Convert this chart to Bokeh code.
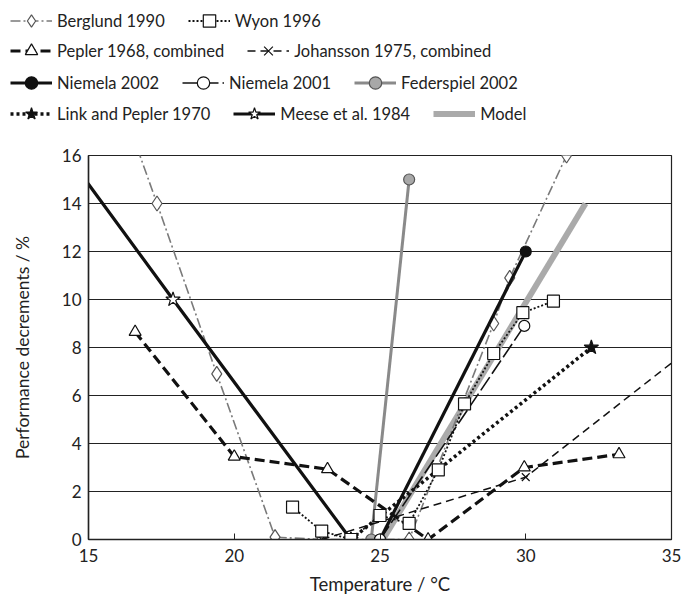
from bokeh.plotting import figure
from bokeh.layouts import column
from bokeh.models import Legend, LegendItem, Range1d, FixedTicker
from bokeh.embed import file_html
from bokeh.resources import INLINE

FONT = "Lato"
NAN = float("nan")

# ---- data ----
berglund_x = [16.47, 17.35, 19.4, 21.4, 23.0, 26.0, 28.9, 29.45, 31.4]
berglund_y = [17.0, 14.0, 6.9, 0.1, 0.0, 0.0, 9.0, 10.9, 16.0]
wyon_x = [22.0, 23.0, 24.0, 25.0, 26.0, 27.0, 27.9, 28.9, 29.9, 30.95]
wyon_y = [1.35, 0.35, 0.0, 1.0, 0.67, 2.9, 5.65, 7.75, 9.45, 9.93]
pepler_x = [16.6, 20.0, 23.2, 26.65, 29.95, 33.2]
pepler_y = [8.65, 3.45, 2.93, 0.0, 3.0, 3.55]
johansson_x = [23.0, 30.0, 35.5]
johansson_y = [0.0, 2.6, 7.83]
niemela02_x = [25.0, 30.0]
niemela02_y = [0.0, 12.0]
niemela01_x = [25.0, 29.95]
niemela01_y = [0.0, 8.9]
federspiel_x = [24.7, 26.0]
federspiel_y = [0.0, 15.0]
link_x = [24.0, 32.25]
link_y = [0.0, 8.0]
meese_x = [14.5, 17.9, 24.0]
meese_y = [15.63, 10.0, 0.0]
model_x = [25.1, 32.05]
model_y = [0.0, 14.0]

x_ticks = [15, 20, 25, 30, 35]
y_ticks = [0, 2, 4, 6, 8, 10, 12, 14, 16]

# styles: label -> (color, width, dash, marker, size, fill, marker line)
STYLES = {
    "Model": ("#aaaaaa", 6, "solid", None, 0, None, None),
    "Federspiel 2002": ("#8a8a8a", 3, "solid", "circle", 11, "#a8a8a8", "#555555"),
    "Berglund 1990": ("#7a7a7a", 1.6, "10 3 2 3", "diamond", 15, "white", "#555555"),
    "Pepler 1968, combined": ("#111111", 3.2, "10 5", "triangle", 12, "white", "#111111"),
    "Johansson 1975, combined": ("#111111", 1.5, "8 5", "x", 11, None, "#111111"),
    "Meese et al. 1984": ("#111111", 3.2, "solid", "star", 15, "white", "#111111"),
    "Niemela 2002": ("#111111", 3.2, "solid", "circle", 11, "#111111", "#111111"),
    "Niemela 2001": ("#111111", 1.6, "16 4", "circle", 11, "white", "#111111"),
    "Link and Pepler 1970": ("#111111", 3.5, "3 3", "star", 15, "#111111", "#111111"),
    "Wyon 1996": ("#111111", 1.8, "2 2", "square", 12, "white", "#111111"),
}
DATA = {
    "Model": (model_x, model_y),
    "Federspiel 2002": (federspiel_x, federspiel_y),
    "Berglund 1990": (berglund_x, berglund_y),
    "Pepler 1968, combined": (pepler_x, pepler_y),
    "Johansson 1975, combined": (johansson_x, johansson_y),
    "Meese et al. 1984": (meese_x, meese_y),
    "Niemela 2002": (niemela02_x, niemela02_y),
    "Niemela 2001": (niemela01_x, niemela01_y),
    "Link and Pepler 1970": (link_x, link_y),
    "Wyon 1996": (wyon_x, wyon_y),
}
LEGEND_ROWS = [
    ["Berglund 1990", "Wyon 1996"],
    ["Pepler 1968, combined", "Johansson 1975, combined"],
    ["Niemela 2002", "Niemela 2001", "Federspiel 2002"],
    ["Link and Pepler 1970", "Meese et al. 1984", "Model"],
]


def draw(fig, label, x, y):
    color, width, dash, marker, msize, mfill, mline = STYLES[label]
    rs = [fig.line(x, y, line_color=color, line_width=width, line_dash=dash)]
    if marker is not None:
        rs.append(fig.scatter(x, y, marker=marker, size=msize, fill_color=mfill,
                              line_color=mline, line_width=1.2))
    return rs


# ---------------- main chart ----------------
p = figure(width=682, height=460, output_backend="svg", toolbar_location=None,
           x_range=Range1d(15, 35), y_range=Range1d(0, 16),
           min_border_left=88, min_border_right=11, min_border_top=18, min_border_bottom=58,
           background_fill_color="white", border_fill_color="white")
p.frame_align = False
p.outline_line_color = "#222222"
p.outline_line_width = 1.2
p.xgrid.grid_line_color = None
p.ygrid.grid_line_color = "#222222"
p.ygrid.grid_line_width = 1.2
p.ygrid.ticker = FixedTicker(ticks=y_ticks)
p.xaxis.ticker = FixedTicker(ticks=x_ticks)
p.yaxis.ticker = FixedTicker(ticks=y_ticks)
for ax in (p.xaxis[0], p.yaxis[0]):
    ax.axis_line_color = "#222222"
    ax.axis_line_width = 1.5
    ax.major_label_text_font = FONT
    ax.major_label_text_font_size = "17px"
    ax.major_label_text_color = "#222222"
    ax.axis_label_text_font = FONT
    ax.axis_label_text_font_style = "normal"
    ax.axis_label_text_color = "#222222"
    ax.minor_tick_line_color = None
p.xaxis.axis_label_text_font_size = "18.5px"
p.yaxis.axis_label_text_font_size = "17.5px"
p.xaxis.major_tick_in = 6
p.xaxis.major_tick_out = 0
p.xaxis.major_tick_line_color = "#222222"
p.yaxis.major_tick_in = 0
p.yaxis.major_tick_out = 0
p.xaxis.major_label_standoff = 9
p.xaxis.axis_label_standoff = 8
p.yaxis.major_label_standoff = 7
p.yaxis.axis_label_standoff = 26
p.xaxis.axis_label = "Temperature / °C"
p.yaxis.axis_label = "Performance decrements / %"

for label in STYLES:
    x, y = DATA[label]
    draw(p, label, x, y)

# ---------------- legend strip (same styles; proxies hold no visible data) ----------------
lg = figure(width=682, height=137, output_backend="svg", toolbar_location=None,
            x_range=Range1d(0, 1), y_range=Range1d(0, 1),
            x_axis_type=None, y_axis_type=None,
            min_border=0, outline_line_color=None,
            background_fill_color="white", border_fill_color="white")
lg.frame_align = False
lg.grid.visible = False
proxy = {label: draw(lg, label, [NAN], [NAN]) for label in STYLES}

row_bottoms = [101, 71, 39, 8]
for names, yb in zip(LEGEND_ROWS, row_bottoms):
    leg = Legend(items=[LegendItem(label=n, renderers=proxy[n]) for n in names],
                 orientation="horizontal", location=(10, yb),
                 glyph_width=42, glyph_height=31, label_height=31, label_standoff=5,
                 spacing=23, padding=0, margin=0,
                 border_line_color=None, background_fill_alpha=0,
                 label_text_font=FONT, label_text_font_size="16.5px",
                 label_text_color="#222222")
    lg.add_layout(leg, "center")

layout = column(lg, p, spacing=0)
open("out.html", "w").write(file_html(layout, INLINE))
